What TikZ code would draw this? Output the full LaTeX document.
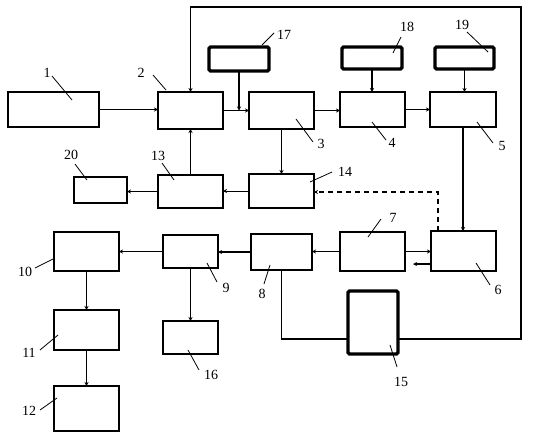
\documentclass[tikz,border=0pt]{standalone}
\usepackage{fontspec}
\setmainfont{Liberation Serif}
\usetikzlibrary{arrows.meta}
\newcommand{\bx}[6]{\node[#1,minimum width={#5-#3},minimum height={#6-#4}] (#2) at ({(#3+#5)/2},{(#4+#6)/2}) {};}
\tikzset{
  box/.style={draw,line width=1.7pt,inner sep=0pt,outer sep=0pt},
  tbox/.style={draw,line width=3.4pt,rounded corners=1.5pt,inner sep=0pt,outer sep=0pt},
  arr/.style={line width=1.3pt,-{Stealth[length=4pt,width=4pt]}},
  tarr/.style={line width=0.8pt,-{Stealth[length=4pt,width=4pt]}},
  ln/.style={line width=1.3pt},
  lead/.style={line width=0.8pt},
  lbl/.style={inner sep=0pt,font=\fontsize{14}{14}\selectfont}}
\begin{document}
\begin{tikzpicture}[x=1pt,y=-1pt]
\useasboundingbox (0,0) rectangle (537,440);
\bx{box}{b1}{8}{92}{99}{127}
\bx{box}{b2}{158}{92}{223}{129}
\bx{box}{b3}{249}{92}{314}{129}
\bx{box}{b4}{340}{92}{405}{127}
\bx{box}{b5}{430}{92}{496}{127}
\bx{tbox}{b17}{209}{47}{269}{71}
\bx{tbox}{b18}{342}{47}{402}{69}
\bx{tbox}{b19}{435}{47}{494}{69}
\bx{box}{b13}{158}{175}{223}{208}
\bx{box}{b20}{74}{177}{127}{203}
\bx{box}{b14}{249}{174}{314}{208}
\bx{box}{b7}{340}{232}{405}{271}
\bx{box}{b6}{431}{231}{496}{271}
\bx{box}{b8}{251}{234}{312}{270}
\bx{box}{b9}{163}{235}{218}{268}
\bx{box}{b10}{54}{232}{119}{271}
\bx{box}{b11}{54}{310}{119}{350}
\bx{box}{b12}{54}{386}{119}{431}
\bx{box}{b16}{163}{321}{218}{354}
\bx{tbox}{b15}{348}{291}{398}{354}
% connectors
\coordinate (fb) at (0,339);
\coordinate (tr) at (521,7);
\coordinate (d1) at (438,192);
\coordinate (s6) at (413,264);
\draw[arr] (b1.east) -- (b1.east -| b2.west);
\draw[arr] (b2.east) -- (b2.east -| b3.west);
\draw[arr] (b17.south) -- (b17.south |- b2.east);
\draw[arr] (b3.east) -- (b3.east -| b4.west);
\draw[arr] (b4.east) -- (b4.east -| b5.west);
\draw[arr] (b18.south) -- (b18.south |- b4.north);
\draw[arr] (b19.south) -- (b19.south |- b5.north);
\draw[arr] (b5.south) -- (b5.south |- b6.north);
\draw[arr] (b3.south) -- (b3.south |- b14.north);
\draw[tarr] (b14.west) -- (b14.west -| b13.east);
\draw[tarr] (b13.west) -- (b13.west -| b20.east);
\draw[arr] (b13.north) -- (b13.north |- b2.south);
\draw[arr,line width=1.1pt,dash pattern=on 5pt off 4pt] (b6.north -| d1) -- (d1) -- (d1 -| b14.east);
\draw[arr] (b7.east) -- (b7.east -| b6.west);
\draw[arr] (b6.west |- s6) -- (s6);
\draw[arr] (b7.west) -- (b7.west -| b8.east);
\draw[arr] (b8.west) -- (b8.west -| b9.east);
\draw[arr] (b9.west) -- (b9.west -| b10.east);
\draw[tarr] (b10.south) -- (b10.south |- b11.north);
\draw[arr] (b11.south) -- (b11.south |- b12.north);
\draw[arr] (b9.south) -- (b9.south |- b16.north);
\draw[ln] (b8.south) -- (b8.south |- fb) -- (b15.west |- fb);
\draw[arr] (b15.east |- fb) -- (fb -| tr) -- (tr) -- (tr -| b2.north) -- (b2.north);
% labels
\node[lbl] (l1) at (47,73) {1};
\draw[lead] (52,76) -- (72,100);
\node[lbl] (l2) at (141,73) {2};
\draw[lead] (153,75) -- (166,90);
\node[lbl] (l17) at (284,35) {17};
\draw[lead] (274,33) -- (262,45);
\node[lbl] (l18) at (407,27) {18};
\draw[lead] (401,37) -- (393,53);
\node[lbl] (l19) at (462,25) {19};
\draw[lead] (467,32) -- (488,52);
\node[lbl] (l3) at (321,144) {3};
\draw[lead] (296,119) -- (313,142);
\node[lbl] (l4) at (392,143) {4};
\draw[lead] (372,122) -- (386,140);
\node[lbl] (l5) at (502,146) {5};
\draw[lead] (477,122) -- (493,143);
\node[lbl] (l14) at (345,172) {14};
\draw[lead] (332,172) -- (310,182);
\node[lbl] (l20) at (71,155) {20};
\draw[lead] (75,164) -- (87,180);
\node[lbl] (l13) at (158,156) {13};
\draw[lead] (162,163) -- (174,180);
\node[lbl] (l7) at (393,218) {7};
\draw[lead] (381,219) -- (368,237);
\node[lbl] (l6) at (498,290) {6};
\draw[lead] (476,263) -- (490,285);
\node[lbl] (l8) at (262,294) {8};
\draw[lead] (264,284) -- (270,265);
\node[lbl] (l9) at (226,288) {9};
\draw[lead] (207,263) -- (217,282);
\node[lbl] (l10) at (25,272) {10};
\draw[lead] (35,268) -- (55,258);
\node[lbl] (l11) at (29,353) {11};
\draw[lead] (40,350) -- (58,335);
\node[lbl] (l12) at (29,411) {12};
\draw[lead] (40,410) -- (57,398);
\node[lbl] (l16) at (211,375) {16};
\draw[lead] (188,350) -- (199,370);
\node[lbl] (l15) at (401,382) {15};
\draw[lead] (390,345) -- (397,367);
\end{tikzpicture}
\end{document}
